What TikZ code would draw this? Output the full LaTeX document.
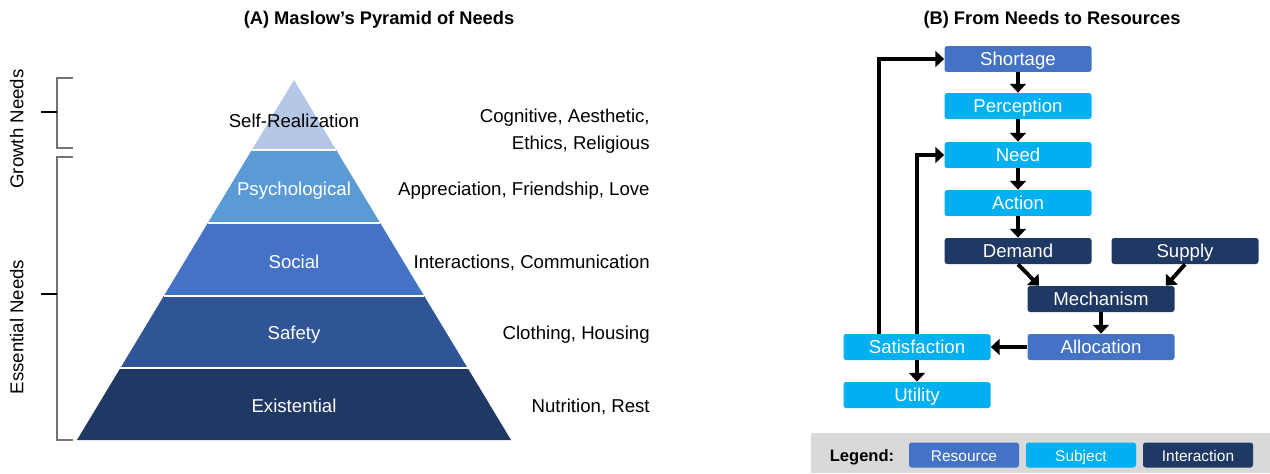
\documentclass[tikz,border=0pt]{standalone}
\usepackage{fontspec}
\setmainfont{Liberation Sans}
\usetikzlibrary{calc,arrows.meta}
\definecolor{resource}{HTML}{4472C4}
\definecolor{subject}{HTML}{00B0F0}
\definecolor{interaction}{HTML}{203864}
\definecolor{layA}{HTML}{B4C7E7}
\definecolor{layB}{HTML}{5B9BD5}
\definecolor{layC}{HTML}{4472C4}
\definecolor{layD}{HTML}{2F5597}
\definecolor{layE}{HTML}{203864}
\definecolor{legendbg}{HTML}{D9D9D9}
\tikzset{
  box/.style={rounded corners=1.5pt, minimum width=2.94cm, minimum height=0.52cm, inner sep=0pt, text=white, text height=0.72em, text depth=0pt, font=\fontsize{10.6}{12}\selectfont},
  res/.style={box, fill=resource},
  subj/.style={box, fill=subject},
  inter/.style={box, fill=interaction},
  keybox/.style={box, minimum width=2.2cm, minimum height=0.5cm, font=\fontsize{8.8}{10}\selectfont},
  flow/.style={line width=2.2pt, -{Triangle[length=5pt,width=9pt]}},
  brack/.style={line width=0.8pt, draw=black!55},
  lbl/.style={inner sep=0pt, text height=0.72em, text depth=0pt, font=\fontsize{10.6}{13.6}\selectfont},
  ttl/.style={inner sep=0pt, text height=0.72em, text depth=0pt, font=\bfseries\fontsize{10.4}{12}\selectfont},
}

\begin{document}
\begin{tikzpicture}[x=0.02cm,y=-0.02cm]
            \useasboundingbox (0,0) rectangle (1270,473);
            \node[ttl] (ta) at (379,18) {(A) Maslow’s Pyramid of Needs};
            \node[ttl] (tb) at (1052,18) {(B) From Needs to Resources};
            \foreach \a/\b/\c in {80/150/layA,150/223/layB,223/296/layC,296/368/layD,368/440/layE}
            \fill[\c] ({294-(\a-80)*0.6028},\a) -- ({294+(\a-80)*0.6028},\a) -- ({294+(\b-80)*0.6028},\b) -- ({294-(\b-80)*0.6028},\b) -- cycle;
            \foreach \b in {150,223,296,368}
            \draw[white, line width=0.9pt] ({294-(\b-80)*0.6028},\b) -- ({294+(\b-80)*0.6028},\b);
            \node[lbl] (p1) at (294,121) {Self-Realization};
            \node[lbl, text=white] (p2) at (294,189) {Psychological};
            \node[lbl, text=white] (p3) at (294,262) {Social};
            \node[lbl, text=white] (p4) at (294,333) {Safety};
            \node[lbl, text=white] (p5) at (294,406) {Existential};
            \node[lbl, anchor=east, align=right, text height=, text depth=] (r1) at (650,131) {Cognitive, Aesthetic,\\[1.5pt]Ethics, Religious};
            \node[lbl, anchor=east] (r2) at (650,189) {Appreciation, Friendship, Love};
            \node[lbl, anchor=east] (r3) at (650,262) {Interactions, Communication};
            \node[lbl, anchor=east] (r4) at (650,333) {Clothing, Housing};
            \node[lbl, anchor=east] (r5) at (650,406) {Nutrition, Rest};
            \draw[brack] (73,78) -- (57,78) -- (57,148) -- (73,148);
            \draw[brack] (73,157) -- (57,157) -- (57,440) -- (73,440);
            \draw[line width=0.8pt] (41,112) -- (57,112);
            \draw[line width=0.8pt] (41,294) -- (57,294);
            \node[lbl, rotate=90] (gn) at (17,129) {Growth Needs};
            \node[lbl, rotate=90] (en) at (17,327) {Essential Needs};
            \node[res] (short) at (1018,59) {Shortage};
            \node[subj] (perc) at (1018,106) {Perception};
            \node[subj] (need) at (1018,155) {Need};
            \node[subj] (act) at (1018,203) {Action};
            \node[inter] (dem) at (1018,251) {Demand};
            \node[inter] (sup) at (1185,251) {Supply};
            \node[inter] (mech) at (1101,299) {Mechanism};
            \node[res] (alloc) at (1101,347) {Allocation};
            \node[subj] (sat) at (917,347) {Satisfaction};
            \node[subj] (util) at (917,395) {Utility};
            \draw[flow] (short) -- (perc);
            \draw[flow] (perc) -- (need);
            \draw[flow] (need) -- (act);
            \draw[flow] (act) -- (dem);
            \draw[flow] (dem.south) -- ($(mech.north west)!0.08!(mech.north east)$);
            \draw[flow] (sup.south) -- ($(mech.north west)!0.94!(mech.north east)$);
            \draw[flow] (mech) -- (alloc);
            \draw[flow] (alloc) -- (sat);
            \draw[flow] (sat) -- (util);
            \draw[flow] ($(sat.north west)!0.245!(sat.north east)$) |- (short.west);
            \draw[flow] (sat.north) |- (need.west);
            \fill[legendbg] (811,433) rectangle (1270,473);
            \node[font=\bfseries\fontsize{9.4}{10}\selectfont, text height=0.72em, text depth=0pt] (leg) at (862,455) {Legend:};
            \node[keybox, fill=resource] (k1) at (964,455) {Resource};
            \node[keybox, fill=subject] (k2) at (1081,455) {Subject};
            \node[keybox, fill=interaction] (k3) at (1198,455) {Interaction};
        \end{tikzpicture}
\end{document}
